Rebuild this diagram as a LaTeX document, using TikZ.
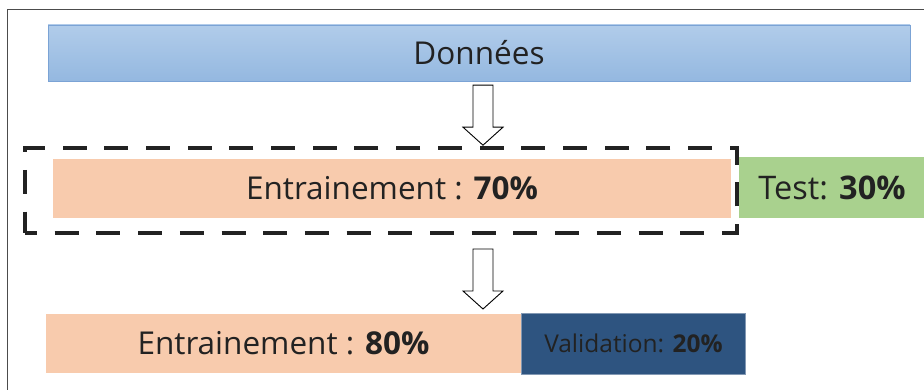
\documentclass[tikz,border=0pt]{standalone}
\usepackage{fontspec}
\setmainfont{Open Sans}
\usepackage{tikz}
\usetikzlibrary{positioning}

\definecolor{bleuhaut}{HTML}{B1CCEA}
\definecolor{bleubas}{HTML}{94B8E0}
\definecolor{bleubord}{HTML}{7BA3D5}
\definecolor{peche}{HTML}{F8CBAD}
\definecolor{vert}{HTML}{A9D18E}
\definecolor{marine}{HTML}{2E5480}
\definecolor{encre}{HTML}{222222}

\tikzset{
  bloc/.style={rectangle, inner sep=0pt, text=encre},
  fleche/.pic={
    \draw[black, line width=0.9pt, fill=white, line join=miter]
      (-10,0)--(10,0)--(10,42)--(20,42)--(0,60)--(-20,42)--(-10,42)--cycle;
  }
}

\begin{document}
\begin{tikzpicture}[x=1pt,y=-1pt]
  \useasboundingbox (0,0) rectangle (924,390);
  \draw[black!70, line width=1pt] (7,391)--(7,10)--(925,10);

  \node[bloc, minimum width=862pt, minimum height=56pt, draw=bleubord,
        top color=bleuhaut, bottom color=bleubas, font=\fontsize{31.5}{36}\selectfont]
        (donnees) at (479,53) {Données};

  \node[bloc, minimum width=712pt, minimum height=85pt, draw=encre,
        line width=4pt, dash pattern=on 24pt off 17.7pt, dash phase=12pt]
        (cadre) at (381,190.5) {};
  \node[bloc, fill=peche, minimum width=678pt, minimum height=59pt,
        font=\fontsize{31.5}{36}\selectfont]
        (train1) at (392,188.5) {Entrainement : \textbf{70\%}};
  \node[bloc, fill=vert, minimum width=186pt, minimum height=61pt,
        font=\fontsize{32.5}{37}\selectfont]
        (test) at (832,187.5) {Test: \textbf{30\%}};

  \node[bloc, fill=peche, minimum width=475pt, minimum height=59pt,
        font=\fontsize{31.5}{36}\selectfont]
        (train2) at (283.5,343.5) {Entrainement : \textbf{80\%}};
  \node[bloc, fill=marine, draw=marine!60, line width=0.6pt, anchor=west,
        minimum width=224pt, minimum height=61pt, font=\fontsize{24.5}{29}\selectfont,
        text=encre]
        (valid) at (train2.east) {Validation: \textbf{20\%}};

  \pic at ([xshift=4pt,yshift=-4pt]donnees.south) {fleche};
  \pic at ([xshift=102pt,yshift=-14pt]cadre.south) {fleche};
\end{tikzpicture}
\end{document}
